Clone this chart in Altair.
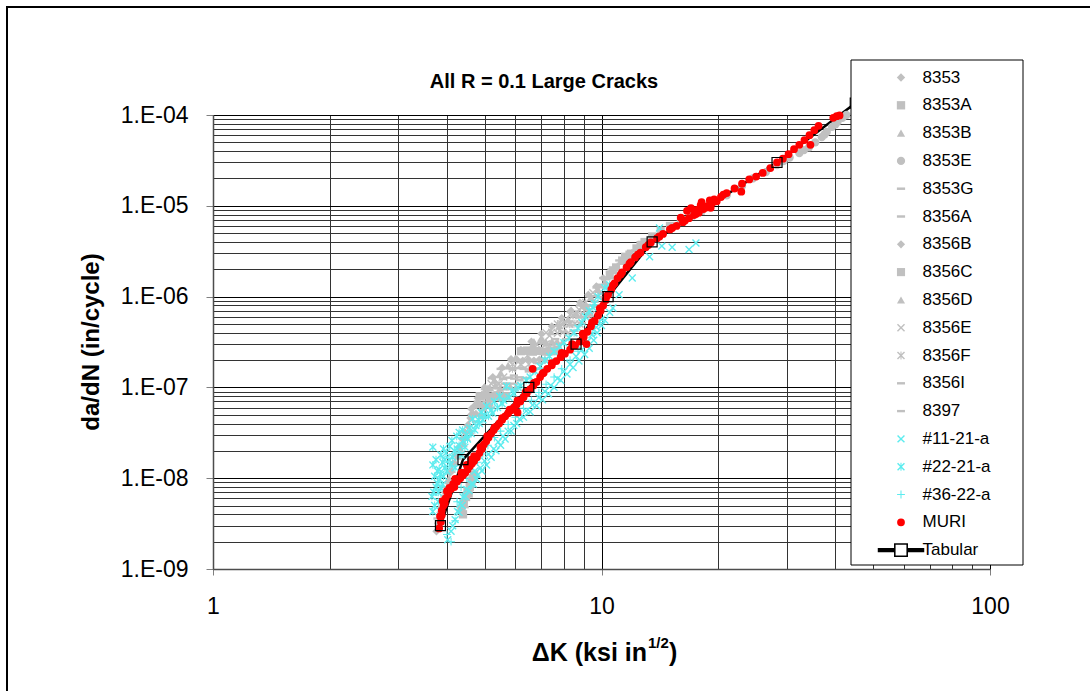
import altair as alt
import pandas as pd

# ---- series names, in legend order ----
SERIES = ["8353", "8353A", "8353B", "8353E", "8353G", "8356A", "8356B", "8356C",
          "8356D", "8356E", "8356F", "8356I", "8397", "#11-21-a", "#22-21-a",
          "#36-22-a", "MURI", "Tabular"]

# ---- (delta K [ksi in^1/2], da/dN [in/cycle]) ----
S8353 = [(3.76, 2.6e-9), (3.80, 3.2e-9), (3.85, 4.2e-9), (3.90, 5.5e-9), (3.96, 7.0e-9),
         (4.02, 9.0e-9), (4.08, 1.15e-8), (4.15, 1.45e-8), (4.22, 1.8e-8), (4.30, 2.2e-8),
         (4.38, 2.7e-8), (4.45, 3.2e-8), (4.52, 3.8e-8), (4.60, 4.6e-8),
         (4.62, 5.0e-8), (4.75, 5.1e-8), (4.88, 4.9e-8), (4.72, 6.3e-8), (4.86, 6.5e-8),
         (5.00, 6.2e-8), (5.15, 6.4e-8)]
S8353A = [(4.36, 4.6e-9), (4.42, 5.3e-9), (4.48, 6.2e-9), (4.52, 7.2e-9), (4.58, 8.0e-9),
          (4.63, 9.2e-9), (4.66, 1.0e-8), (4.40, 4.0e-9), (4.55, 6.8e-9), (4.70, 1.1e-8),
          (4.86, 8.0e-8), (5.02, 8.2e-8), (5.18, 7.9e-8), (5.34, 8.1e-8), (5.50, 7.8e-8),
          (5.68, 8.0e-8)]
S8353B = [(4.55, 4.0e-8), (4.68, 5.2e-8), (4.80, 6.5e-8), (4.95, 8.0e-8), (5.10, 9.8e-8),
          (5.30, 1.2e-7), (5.50, 1.45e-7), (5.75, 1.75e-7), (6.00, 2.1e-7), (6.30, 2.5e-7),
          (6.65, 2.95e-7), (7.00, 3.5e-7), (7.40, 4.1e-7), (7.80, 4.8e-7), (8.20, 5.6e-7),
          (8.60, 6.6e-7), (9.00, 8.0e-7), (9.40, 9.8e-7), (9.80, 1.2e-6), (10.2, 1.45e-6),
          (5.00, 1.02e-7), (5.16, 1.0e-7), (5.32, 1.04e-7), (5.48, 0.98e-7), (5.65, 1.01e-7),
          (5.82, 1.03e-7), (6.00, 0.99e-7)]
S8353E = [(19.0, 1.0e-5), (21.0, 1.3e-5), (23.0, 1.65e-5), (24.5, 2.0e-5), (26.5, 2.35e-5),
          (28.3, 2.8e-5), (30.5, 3.4e-5), (32.3, 3.8e-5), (34.2, 4.4e-5), (35.5, 5.0e-5),
          (36.9, 5.7e-5), (38.0, 6.5e-5), (39.2, 7.4e-5), (40.5, 8.4e-5), (41.7, 9.3e-5),
          (42.7, 1.0e-4), (29.4, 3.1e-5), (33.2, 4.1e-5), (37.5, 6.1e-5), (40.0, 7.9e-5)]
S8353G = [(4.75, 4.2e-8), (4.95, 5.6e-8), (5.15, 7.0e-8), (5.40, 8.8e-8), (5.65, 1.1e-7),
          (5.95, 1.35e-7), (6.25, 1.65e-7), (6.55, 2.0e-7), (6.90, 2.45e-7), (7.25, 2.9e-7),
          (7.60, 3.4e-7), (8.00, 4.1e-7), (8.40, 4.9e-7), (8.80, 5.9e-7), (9.20, 7.2e-7),
          (9.60, 8.8e-7), (10.0, 1.08e-6), (10.4, 1.3e-6),
          (5.22, 1.26e-7), (5.40, 1.3e-7), (5.58, 1.24e-7), (5.77, 1.28e-7), (5.96, 1.25e-7),
          (6.15, 1.29e-7), (6.35, 1.27e-7)]
S8356A = [(4.95, 4.6e-8), (5.20, 6.0e-8), (5.50, 7.6e-8), (5.80, 9.6e-8), (6.15, 1.2e-7),
          (6.50, 1.5e-7), (6.90, 1.85e-7), (7.30, 2.3e-7), (7.70, 2.8e-7), (8.10, 3.4e-7),
          (8.50, 4.2e-7), (8.90, 5.1e-7), (9.30, 6.3e-7), (9.70, 7.7e-7), (10.1, 9.6e-7),
          (5.50, 1.6e-7), (5.70, 1.62e-7), (5.90, 1.58e-7), (6.10, 1.63e-7), (6.30, 1.6e-7),
          (6.50, 1.57e-7), (6.75, 1.61e-7), (6.95, 1.6e-7)]
S8356B = [(4.62, 5.8e-8), (4.80, 7.6e-8), (5.00, 1.0e-7), (5.25, 1.3e-7), (5.55, 1.65e-7),
          (5.85, 2.05e-7), (6.20, 2.6e-7), (6.60, 3.2e-7), (7.00, 3.9e-7), (7.45, 4.7e-7),
          (7.90, 5.8e-7), (8.35, 7.0e-7), (8.80, 8.6e-7), (9.25, 1.05e-6), (9.70, 1.3e-6),
          (10.1, 1.6e-6),
          (5.85, 2.0e-7), (6.05, 2.04e-7), (6.27, 1.97e-7), (6.48, 2.02e-7), (6.70, 1.98e-7),
          (6.92, 2.03e-7), (7.15, 2.0e-7)]
S8356C = [(10.5, 1.75e-6), (10.9, 2.1e-6), (11.3, 2.5e-6), (11.8, 2.9e-6), (12.3, 3.4e-6),
          (12.9, 4.0e-6), (13.5, 4.6e-6), (14.2, 5.3e-6), (15.0, 6.0e-6), (16.0, 6.9e-6),
          (17.0, 7.8e-6), (18.0, 8.8e-6), (10.7, 1.95e-6), (11.5, 2.75e-6), (12.6, 3.7e-6),
          (6.20, 2.5e-7), (6.43, 2.55e-7), (6.66, 2.47e-7), (6.90, 2.52e-7), (7.14, 2.48e-7),
          (7.38, 2.53e-7), (7.60, 2.5e-7)]
S8356D = [(4.05, 1.0e-8), (4.12, 1.25e-8), (4.20, 1.5e-8), (4.28, 1.75e-8), (4.35, 2.05e-8),
          (4.42, 2.4e-8), (4.50, 2.8e-8), (4.60, 3.3e-8),
          (6.70, 3.2e-7), (6.95, 3.25e-7), (7.20, 3.17e-7), (7.45, 3.22e-7), (7.70, 3.18e-7),
          (7.95, 3.2e-7)]
S8356E = [(5.05, 8.6e-8), (5.60, 1.3e-7), (6.10, 1.9e-7), (6.70, 2.7e-7), (7.35, 3.7e-7),
          (8.05, 5.2e-7), (8.75, 7.2e-7), (5.20, 1.1e-7), (5.90, 1.8e-7), (6.80, 3.0e-7),
          (7.90, 5.0e-7), (8.90, 7.5e-7), (9.50, 1.1e-6),
          (7.20, 4.0e-7), (7.45, 4.05e-7), (7.70, 3.96e-7), (7.95, 4.03e-7), (8.20, 3.98e-7),
          (8.45, 4.0e-7)]
S8356F = [(4.85, 6.3e-8), (5.35, 1.05e-7), (5.90, 1.6e-7), (6.45, 2.25e-7), (7.10, 3.2e-7),
          (7.75, 4.5e-7), (8.45, 6.2e-7), (9.10, 8.6e-7), (5.45, 1.1e-7), (6.20, 1.8e-7),
          (6.50, 1.8e-7), (7.20, 3.0e-7), (7.50, 3.0e-7), (8.30, 5.0e-7), (9.20, 7.5e-7),
          (7.70, 5.0e-7), (7.98, 5.05e-7), (8.26, 4.96e-7), (8.54, 5.02e-7), (8.80, 4.98e-7),
          (8.30, 6.3e-7), (8.58, 6.36e-7), (8.86, 6.27e-7), (9.14, 6.33e-7), (9.40, 6.3e-7)]
S8356I = [(9.85, 1.35e-6), (10.3, 1.55e-6), (10.7, 1.9e-6), (11.2, 2.3e-6), (11.7, 2.75e-6),
          (8.80, 8.0e-7), (9.08, 8.06e-7), (9.36, 7.96e-7), (9.64, 8.02e-7),
          (9.30, 1.0e-6), (9.58, 1.01e-6), (9.86, 0.99e-6)]
S8397 = [(3.78, 3.6e-9), (3.88, 4.8e-9), (3.94, 6.4e-9), (4.00, 8.0e-9), (4.45, 4.8e-9),
         (4.60, 8.6e-9), (4.80, 7.0e-8), (5.05, 7.0e-8), (5.70, 1.1e-7), (5.95, 1.1e-7),
         (9.70, 1.26e-6), (9.98, 1.27e-6), (10.25, 1.25e-6), (10.1, 1.6e-6), (10.4, 1.62e-6),
         (10.65, 1.59e-6), (10.6, 2.0e-6), (10.9, 2.02e-6), (11.1, 2.5e-6), (11.4, 2.52e-6),
         (11.9, 3.2e-6), (12.2, 3.22e-6), (12.7, 4.0e-6)]

S11_21_A = [(4.02, 2.1e-9), (4.10, 2.6e-9), (4.14, 3.0e-9), (4.20, 3.5e-9), (4.26, 4.3e-9),
            (4.32, 5.2e-9), (4.40, 6.2e-9), (4.50, 7.5e-9), (4.62, 8.6e-9), (4.77, 9.8e-9),
            (4.92, 1.2e-8), (5.06, 1.4e-8), (5.20, 1.7e-8), (5.35, 2.0e-8), (5.50, 2.3e-8),
            (5.65, 2.7e-8), (5.85, 3.3e-8), (6.05, 4.0e-8), (6.30, 4.7e-8), (6.55, 5.4e-8),
            (6.80, 6.3e-8), (7.05, 7.3e-8), (7.30, 8.5e-8), (7.55, 1.0e-7), (7.85, 1.2e-7),
            (8.15, 1.4e-7), (8.45, 1.65e-7), (8.75, 1.95e-7), (9.05, 2.3e-7), (9.30, 2.7e-7),
            (9.55, 3.3e-7), (9.75, 4.0e-7), (10.0, 4.8e-7), (10.2, 5.5e-7), (10.5, 6.7e-7),
            (10.7, 7.5e-7), (11.1, 1.05e-6), (12.0, 1.6e-6), (13.3, 2.75e-6), (14.3, 3.6e-6),
            (15.2, 3.5e-6), (16.8, 3.3e-6), (17.5, 3.9e-6), (14.1, 5.7e-6),
            (4.30, 4.2e-9), (4.38, 5.0e-9), (4.46, 6.3e-9), (4.56, 7.3e-9), (4.68, 8.6e-9),
            (4.80, 1.08e-8), (4.72, 1.2e-8), (4.88, 1.3e-8), (5.00, 1.55e-8), (5.12, 1.85e-8),
            (5.28, 2.1e-8), (5.42, 2.5e-8), (5.58, 2.9e-8), (5.75, 3.3e-8), (5.95, 3.8e-8),
            (6.15, 4.5e-8), (6.40, 5.5e-8), (6.65, 6.4e-8), (6.90, 7.7e-8), (7.15, 9.0e-8),
            (7.40, 1.05e-7), (7.70, 1.25e-7), (8.00, 1.5e-7), (8.30, 1.8e-7), (8.60, 2.2e-7),
            (8.90, 2.6e-7), (9.20, 3.2e-7), (9.45, 3.8e-7), (9.70, 4.6e-7), (10.0, 5.6e-7)]
S22_21_A = [(3.68, 2.2e-8), (3.68, 1.4e-8), (3.66, 6.3e-9), (3.68, 4.3e-9), (3.75, 8.0e-9),
            (3.83, 9.7e-9), (3.78, 1.2e-8), (3.90, 1.5e-8), (3.85, 1.1e-8), (3.98, 1.9e-8),
            (4.07, 2.25e-8), (4.14, 1.7e-8), (4.24, 2.9e-8), (4.30, 2.3e-8), (4.39, 3.4e-8),
            (4.50, 3.0e-8), (4.66, 4.5e-8), (4.75, 3.8e-8), (4.90, 5.3e-8), (5.06, 6.2e-8),
            (5.20, 5.6e-8), (5.30, 7.0e-8), (5.47, 8.0e-8), (5.60, 7.2e-8), (5.70, 1.03e-7),
            (5.90, 9.2e-8), (6.10, 1.0e-7), (6.40, 1.2e-7), (6.75, 1.5e-7), (7.15, 2.0e-7),
            (7.55, 2.5e-7), (8.00, 3.1e-7), (8.50, 4.0e-7), (8.90, 5.2e-7), (9.30, 7.0e-7),
            (9.60, 8.4e-7), (9.80, 1.0e-6), (10.2, 1.25e-6), (10.5, 1.35e-6),
            (3.95, 1.3e-8), (4.05, 1.6e-8), (4.18, 2.0e-8), (4.40, 2.6e-8), (4.58, 3.6e-8),
            (4.82, 4.4e-8), (5.00, 5.0e-8), (3.80, 7.0e-9), (3.90, 8.5e-9),
            (3.72, 5.0e-9), (3.80, 5.5e-9), (3.70, 7.0e-9), (3.78, 8.8e-9), (3.86, 7.8e-9),
            (3.72, 1.05e-8), (3.82, 1.25e-8), (3.92, 1.05e-8), (4.00, 1.2e-8), (3.75, 1.6e-8),
            (3.86, 1.8e-8), (3.95, 1.6e-8), (4.08, 1.4e-8), (4.20, 1.3e-8), (3.92, 2.1e-8),
            (4.12, 2.6e-8), (4.25, 2.1e-8), (4.35, 1.8e-8), (4.45, 2.2e-8), (4.30, 3.2e-8),
            (4.52, 2.7e-8), (4.62, 3.1e-8), (4.72, 3.4e-8), (4.85, 4.0e-8), (4.95, 4.4e-8),
            (5.12, 4.8e-8), (5.25, 5.2e-8), (5.40, 6.0e-8), (5.55, 6.6e-8), (5.78, 7.8e-8),
            (5.95, 8.5e-8), (6.20, 1.05e-7), (6.55, 1.3e-7), (6.95, 1.7e-7), (7.35, 2.2e-7),
            (7.80, 2.8e-7), (8.25, 3.5e-7), (8.70, 4.5e-7), (9.10, 6.0e-7), (9.50, 7.6e-7)]
S36_22_A = [(4.10, 2.0e-9), (4.00, 2.4e-9), (4.20, 3.4e-9), (4.25, 5.5e-9), (4.35, 8.0e-9),
            (4.50, 1.0e-8), (4.60, 1.25e-8), (4.80, 1.5e-8), (4.95, 1.85e-8), (5.10, 2.3e-8),
            (5.30, 2.8e-8), (5.50, 3.3e-8), (5.75, 3.9e-8), (6.00, 4.7e-8), (6.30, 5.9e-8),
            (6.60, 7.2e-8), (6.90, 8.8e-8), (7.20, 1.08e-7), (7.55, 1.3e-7), (7.90, 1.6e-7),
            (8.30, 2.0e-7), (8.70, 2.5e-7), (9.10, 3.1e-7), (9.50, 4.0e-7), (9.90, 5.2e-7)]

MURI = [(3.82, 2.8e-9), (3.86, 3.3e-9), (3.84, 3.8e-9), (3.88, 4.4e-9), (3.92, 5.0e-9),
        (3.90, 5.6e-9), (3.97, 6.0e-9), (4.03, 6.6e-9), (4.00, 7.2e-9), (4.10, 7.6e-9),
        (4.18, 8.0e-9), (4.15, 8.6e-9), (4.25, 9.2e-9), (4.33, 1.0e-8), (4.40, 1.08e-8),
        (4.46, 1.15e-8), (4.52, 1.25e-8), (4.58, 1.35e-8), (4.64, 1.45e-8), (4.70, 1.55e-8),
        (4.62, 1.6e-8), (4.78, 1.7e-8), (4.85, 1.9e-8), (4.92, 2.1e-8), (4.98, 2.35e-8),
        (5.05, 2.55e-8), (5.12, 2.8e-8), (5.20, 3.1e-8), (5.28, 3.4e-8), (5.36, 3.7e-8),
        (5.45, 4.0e-8), (5.55, 4.4e-8), (5.65, 4.8e-8), (5.75, 5.2e-8), (5.85, 5.6e-8),
        (5.95, 6.0e-8), (6.05, 6.5e-8), (6.18, 7.0e-8), (6.30, 7.8e-8), (6.42, 8.6e-8),
        (6.55, 9.5e-8), (6.68, 1.05e-7), (6.80, 1.15e-7), (6.95, 1.3e-7), (7.10, 1.45e-7),
        (7.25, 1.6e-7), (7.45, 1.75e-7), (7.65, 1.95e-7), (7.85, 2.15e-7), (8.05, 2.35e-7),
        (8.30, 2.6e-7), (8.55, 2.9e-7), (8.80, 3.2e-7), (9.00, 3.6e-7), (9.20, 4.1e-7),
        (9.40, 4.7e-7), (9.60, 5.4e-7), (9.80, 6.2e-7), (9.95, 7.0e-7), (10.1, 8.0e-7),
        (10.25, 9.2e-7), (10.4, 1.05e-6), (10.6, 1.2e-6), (10.8, 1.4e-6), (11.0, 1.6e-6),
        (11.3, 1.85e-6), (11.6, 2.1e-6), (11.9, 2.4e-6), (12.2, 2.7e-6), (12.6, 3.05e-6),
        (13.0, 3.5e-6), (13.4, 3.95e-6), (13.9, 4.4e-6), (14.4, 4.9e-6), (15.0, 5.5e-6),
        (15.6, 6.0e-6), (16.2, 6.6e-6), (16.8, 7.3e-6), (17.3, 7.9e-6), (17.8, 8.4e-6),
        (18.3, 9.2e-6), (18.8, 1.0e-5), (19.3, 1.08e-5), (17.6, 9.0e-6), (18.6, 9.6e-6),
        (19.0, 1.15e-5), (19.8, 1.12e-5), (18.0, 1.02e-5), (20.3, 1.25e-5), (21.0, 1.38e-5),
        (22.0, 1.55e-5), (23.0, 1.75e-5), (24.0, 1.95e-5), (25.0, 2.1e-5), (26.0, 2.3e-5),
        (27.2, 2.6e-5), (28.3, 3.0e-5), (29.3, 3.3e-5), (30.3, 3.7e-5), (31.3, 4.2e-5),
        (32.3, 4.7e-5), (33.3, 5.3e-5), (34.3, 6.0e-5), (35.3, 6.8e-5), (36.2, 7.6e-5),
        (34.5, 4.7e-5), (39.5, 9.3e-5), (40.3, 9.7e-5), (41.0, 9.9e-5), (16.6, 8.8e-6),
        (22.9, 1.43e-5), (6.65, 1.6e-7), (9.15, 3.0e-7), (6.08, 5.3e-8),
        (3.88, 3.9e-9), (3.95, 5.3e-9), (4.06, 7.8e-9), (4.20, 9.8e-9), (4.36, 1.15e-8),
        (4.50, 1.4e-8), (4.70, 1.75e-8), (4.88, 2.2e-8), (5.08, 2.9e-8), (5.30, 3.6e-8),
        (5.55, 4.6e-8), (5.80, 5.7e-8), (6.08, 7.2e-8), (6.38, 8.9e-8), (6.70, 1.12e-7),
        (7.05, 1.42e-7), (7.45, 1.85e-7), (7.90, 2.4e-7), (8.40, 3.0e-7), (8.95, 3.9e-7),
        (9.45, 5.2e-7), (9.90, 7.4e-7), (10.3, 1.0e-6), (10.7, 1.33e-6), (11.2, 1.75e-6),
        (11.8, 2.3e-6), (12.4, 2.9e-6), (13.2, 3.7e-6), (14.1, 4.6e-6), (15.2, 5.7e-6),
        (16.4, 6.9e-6), (17.5, 8.1e-6), (18.4, 9.8e-6), (19.5, 1.18e-5), (20.6, 1.33e-5),
        (17.0, 9.4e-6), (19.1, 9.5e-6), (18.1, 1.1e-5), (16.0, 7.4e-6)]

TABULAR = [(3.85, 3.0e-9), (4.4, 1.6e-8), (6.5, 1.0e-7), (8.6, 3.0e-7), (10.4, 1.0e-6),
           (13.5, 4.0e-6), (28.3, 3.0e-5), (45.0, 1.35e-4)]

SCATTER = [S8353, S8353A, S8353B, S8353E, S8353G, S8356A, S8356B, S8356C, S8356D,
           S8356E, S8356F, S8356I, S8397, S11_21_A, S22_21_A, S36_22_A, MURI]

# ---- marker styles ----
GRAY, CYAN, RED = "#C0C0C0", "#5CECEF", "#FF0000"
COLORS = [GRAY] * 13 + [CYAN] * 3 + [RED, "#000000"]

DASH = "M-1,-0.3L1,-0.3L1,0.3L-1,0.3Z"
XMARK = ("M-1,-0.75L-0.75,-1L0,-0.25L0.75,-1L1,-0.75L0.25,0L1,0.75L0.75,1L0,0.25"
         "L-0.75,1L-1,0.75L-0.25,0Z")
STAR = XMARK + "M-0.13,-1L0.13,-1L0.13,1L-0.13,1Z"
PLUS = ("M-1,-0.13L-0.13,-0.13L-0.13,-1L0.13,-1L0.13,-0.13L1,-0.13L1,0.13L0.13,0.13"
        "L0.13,1L-0.13,1L-0.13,0.13L-1,0.13Z")
# legend glyph for the tabulated curve: line with an open square
LINE_SQUARE = ("M-6,-0.55L-1.8,-0.55L-1.8,0.55L-6,0.55Z"
               "M1.8,-0.55L6,-0.55L6,0.55L1.8,0.55Z"
               "M-1.8,-1.8L1.8,-1.8L1.8,1.8L-1.8,1.8Z"
               "M-1.4,-1.4L-1.4,1.4L1.4,1.4L1.4,-1.4Z")
SHAPES = ["diamond", "square", "triangle-up", "circle", DASH, DASH, "diamond", "square",
          "triangle-up", XMARK, STAR, DASH, DASH, XMARK, STAR, PLUS, "circle", LINE_SQUARE]
SIZES = [70, 60, 70, 30, 60, 80, 80, 70, 80, 65, 70, 60, 65, 55, 55, 55, 50, 30]

X_TICKS = [1, 2, 3, 4, 5, 6, 7, 8, 9, 10, 20, 30, 40, 50, 60, 70, 80, 90, 100]
Y_TICKS = [m * 10.0 ** e for e in range(-9, -4) for m in range(1, 10)] + [1e-4]

FONT = "Liberation Sans"

rows = []
for name, pts in zip(SERIES, SCATTER):
    for k, r in pts:
        rows.append({"series": name, "dK": k, "rate": r})
scatter_df = pd.DataFrame(rows)
tab_df = pd.DataFrame(TABULAR, columns=["dK", "rate"])
one = pd.DataFrame({"k": [0]})

x_major = "indexof([1, 10, 100], datum.value) >= 0"
y_major = "abs(log(datum.value) / LN10 - round(log(datum.value) / LN10)) < 0.001"

x_axis = alt.Axis(
    values=X_TICKS, title=None, labelExpr=f"{x_major} ? toString(datum.value) : ''",
    labelFont=FONT, labelFontSize=23, labelColor="black", labelPadding=20,
    labelFlush=False, labelOverlap=False,
    grid=True, gridColor={"condition": {"test": x_major, "value": "#000000"}, "value": "#333333"},
    gridWidth=1, tickSize=6,
    tickColor={"condition": {"test": x_major, "value": "#808080"}, "value": "transparent"},
    domainColor="#4d4d4d", domainWidth=1.5,
)
y_axis = alt.Axis(
    values=Y_TICKS, title=None,
    labelExpr=f"{y_major} ? '1.E-0' + toString(-round(log(datum.value) / LN10)) : ''",
    labelFont=FONT, labelFontSize=23, labelColor="black", labelPadding=18,
    labelFlush=False, labelOverlap=False,
    grid=True, gridColor={"condition": {"test": y_major, "value": "#000000"}, "value": "#333333"},
    gridWidth=1, tickSize=7,
    tickColor={"condition": {"test": y_major, "value": "#808080"}, "value": "transparent"},
    domainColor="#4d4d4d", domainWidth=1.5,
)

xs = alt.Scale(type="log", domain=[1, 100], nice=False)
ys = alt.Scale(type="log", domain=[1e-9, 1e-4], nice=False)

legend = alt.Legend(
    orient="none", legendX=679.5, legendY=-46, title=None, padding=0,
    labelFont=FONT, labelFontSize=17, labelColor="black", labelOffset=13,
    rowPadding=9.8, symbolStrokeWidth=0, symbolOpacity=1, symbolSize=30,
    gridAlign="all", symbolLimit=0,
)

points = alt.Chart(scatter_df).mark_point(filled=True, opacity=1, strokeWidth=0).encode(
    x=alt.X("dK:Q", scale=xs, axis=x_axis),
    y=alt.Y("rate:Q", scale=ys, axis=y_axis),
    color=alt.Color("series:N", scale=alt.Scale(domain=SERIES, range=COLORS), legend=legend),
    shape=alt.Shape("series:N", scale=alt.Scale(domain=SERIES, range=SHAPES), legend=legend),
    size=alt.Size("series:N", scale=alt.Scale(domain=SERIES, range=SIZES), legend=None),
)

# tabulated curve: line under the scatter, open squares on top
tab_line = alt.Chart(tab_df).mark_line(color="black", strokeWidth=2.5).encode(
    x=alt.X("dK:Q", scale=xs), y=alt.Y("rate:Q", scale=ys))
tab_pts = alt.Chart(tab_df).mark_point(shape="square", size=100, filled=False,
                                       color="black", strokeWidth=1.2, opacity=1).encode(
    x=alt.X("dK:Q", scale=xs), y=alt.Y("rate:Q", scale=ys))

# legend frame (white box over the plot area)
legend_box = alt.Chart(one).mark_rect(fill="white", stroke="black", strokeWidth=1).encode(
    x=alt.value(638), x2=alt.value(810), y=alt.value(-55), y2=alt.value(450))

# outer chart frame (left and top edges)
frame_left = alt.Chart(one).mark_rule(color="black", strokeWidth=2).encode(
    x=alt.value(-206), y=alt.value(-108), y2=alt.value(580))
frame_top = alt.Chart(one).mark_rule(color="black", strokeWidth=2).encode(
    x=alt.value(-207), x2=alt.value(880), y=alt.value(-108))

title = alt.Chart(one).mark_text(text="All R = 0.1 Large Cracks", font=FONT, fontSize=20,
                                 fontWeight="bold", align="center", baseline="middle",
                                 color="black").encode(x=alt.value(331), y=alt.value(-33))
y_title = alt.Chart(one).mark_text(text="da/dN (in/cycle)", font=FONT, fontSize=24,
                                   fontWeight="bold", align="center", baseline="middle",
                                   angle=270, color="black").encode(
    x=alt.value(-121), y=alt.value(227))
x_title_main = alt.Chart(one).mark_text(text="ΔK (ksi in", font=FONT, fontSize=25,
                                        fontWeight="bold", align="right", baseline="alphabetic",
                                        color="black").encode(x=alt.value(434), y=alt.value(546))
x_title_sup = alt.Chart(one).mark_text(text="1/2", font=FONT, fontSize=15,
                                       fontWeight="bold", align="left", baseline="alphabetic",
                                       color="black").encode(x=alt.value(435), y=alt.value(533))
x_title_end = alt.Chart(one).mark_text(text=")", font=FONT, fontSize=25,
                                       fontWeight="bold", align="left", baseline="alphabetic",
                                       color="black").encode(x=alt.value(456), y=alt.value(546))

chart = alt.layer(
    tab_line, points, tab_pts, legend_box, frame_left, frame_top,
    title, y_title, x_title_main, x_title_sup, x_title_end,
).properties(
    width=777, height=454,
    autosize=alt.AutoSizeParams(type="none"),
    padding={"left": 213, "top": 115, "right": 100, "bottom": 122},
    background="white",
).configure_view(stroke=None)

chart.save("out.html", embed_options={"renderer": "svg", "actions": False})
